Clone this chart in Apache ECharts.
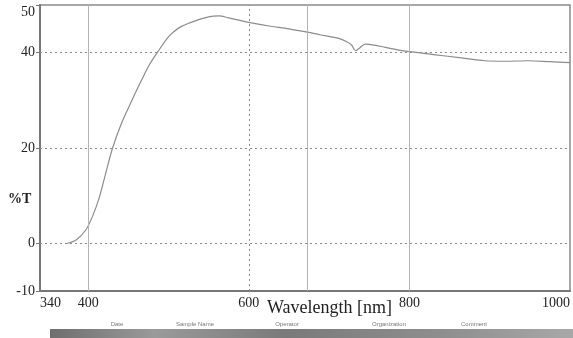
<!DOCTYPE html>
<html>
<head>
<meta charset="utf-8">
<script src="https://cdn.jsdelivr.net/npm/echarts@6/dist/echarts.min.js"></script>
<style>
body { margin: 0; background: #fff; }
#main { width: 573px; height: 338px; }
</style>
</head>
<body>
<div id="main"></div>
<script>
// spectrum
var wavelength = [374, 385, 397, 405, 414, 422, 430, 441, 455, 467, 476, 486, 500, 513, 529, 550, 563, 575, 598, 625, 650, 673, 690, 712, 722, 728, 733, 738, 745, 756, 770, 785, 800, 830, 865, 894, 920, 948, 975, 1000];
var transmit = [0, 0.7, 2.8, 5.5, 9.7, 14.8, 19.8, 25.0, 30.2, 34.4, 37.4, 40.0, 43.3, 45.2, 46.4, 47.5, 47.7, 47.3, 46.4, 45.6, 45.0, 44.3, 43.7, 43.0, 42.3, 41.6, 40.4, 41.0, 41.8, 41.6, 41.1, 40.6, 40.2, 39.6, 38.9, 38.3, 38.2, 38.3, 38.1, 37.9];

var xTicks = [340, 400, 600, 800, 1000];
var yTicks = [-10, 0, 20, 40, 50];
var hGrid = [0, 20, 40];
var vGridDotted = [600];
var vGridSolid = [400, 673, 800];
var tableHeads = ['Date', 'Sample Name', 'Operator', 'Organization', 'Comment'];
var tableHeadX = [117, 195, 287, 389, 474];

var chart = echarts.init(document.getElementById('main'));

var serif = '"Liberation Serif", "DejaVu Serif", serif';
var dotted = { color: '#8a8a8a', type: [2, 3], width: 1 };
var solid = { color: '#b4b4b4', type: 'solid', width: 1 };

var gridLines = [];
hGrid.forEach(function (v) { gridLines.push({ yAxis: v, lineStyle: dotted }); });
vGridDotted.forEach(function (v) { gridLines.push({ xAxis: v, lineStyle: dotted }); });
vGridSolid.forEach(function (v) { gridLines.push({ xAxis: v, lineStyle: solid }); });

var graphics = [
    {
        type: 'text', left: 267, top: 299,
        style: { text: 'Wavelength [nm]', font: '18px ' + serif, fill: '#222' }
    },
    {
        type: 'text', left: 8, top: 192,
        style: { text: '%T', font: 'bold 14px ' + serif, fill: '#222' }
    },
    {
        type: 'rect', shape: { x: 50, y: 329, width: 523, height: 9 },
        style: {
            fill: new echarts.graphic.LinearGradient(0, 0, 1, 0, [
                { offset: 0, color: '#6e6e6e' },
                { offset: 0.2, color: '#9a9a9a' },
                { offset: 0.45, color: '#7a7a7a' },
                { offset: 0.75, color: '#8e8e8e' },
                { offset: 1, color: '#a8a8a8' }
            ])
        }
    }
];
tableHeads.forEach(function (t, i) {
    graphics.push({
        type: 'text', x: tableHeadX[i], y: 321,
        style: { text: t, font: '6px "Liberation Sans", sans-serif', fill: '#777', align: 'center' }
    });
});

var option = {
    animation: false,
    grid: {
        left: 40, top: 5, right: 2, bottom: 47,
        show: true, borderColor: '#8a8a8a', borderWidth: 1.5
    },
    xAxis: {
        type: 'value', min: 340, max: 1000,
        axisLine: { onZero: false, lineStyle: { color: '#777', width: 2 } },
        axisTick: { show: false },
        splitLine: { show: false },
        axisLabel: {
            customValues: xTicks,
            formatter: function (v) { return String(v); },
            margin: 5,
            alignMinLabel: 'left',
            alignMaxLabel: 'right',
            color: '#222',
            fontSize: 14,
            fontFamily: serif
        }
    },
    yAxis: {
        type: 'value', min: -10, max: 50,
        axisLine: { show: true, onZero: false, lineStyle: { color: '#777', width: 2 } },
        axisTick: { show: true, customValues: yTicks, length: 4, lineStyle: { color: '#777' } },
        splitLine: { show: false },
        axisLabel: {
            customValues: yTicks,
            margin: 5,
            verticalAlignMaxLabel: 'top',
            color: '#222',
            fontSize: 14,
            fontFamily: serif
        }
    },
    graphic: graphics,
    series: [
        {
            type: 'line',
            data: wavelength.map(function (w, i) { return [w, transmit[i]]; }),
            showSymbol: false,
            smooth: 0.3,
            lineStyle: { color: '#8c8c8c', width: 1.2 },
            markLine: {
                silent: true,
                symbol: 'none',
                label: { show: false },
                data: gridLines
            }
        }
    ]
};

chart.setOption(option);
</script>
</body>
</html>
